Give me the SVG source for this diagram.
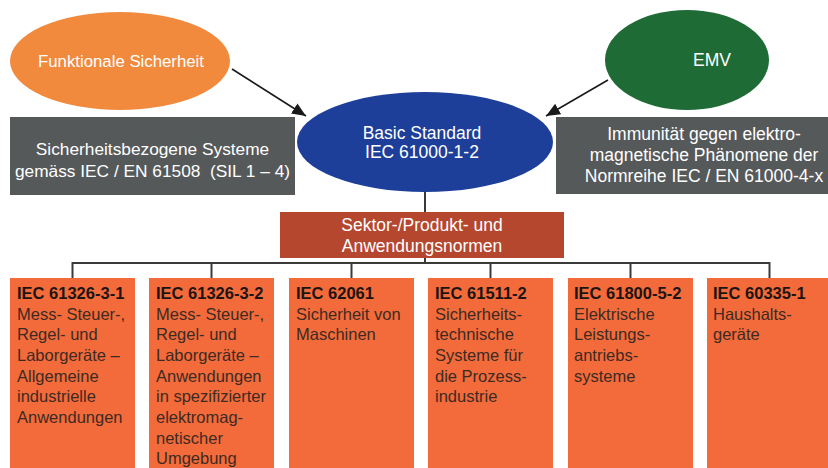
<svg xmlns="http://www.w3.org/2000/svg" width="828" height="468" viewBox="0 0 828 468">
<defs>
<marker id="ah" viewBox="0 0 14 12" refX="14" refY="6" markerWidth="14" markerHeight="12" markerUnits="userSpaceOnUse" orient="auto"><path d="M0,0 L14,6 L0,12 z" fill="#1a1a1a"/></marker>
<style>
text{font-family:"Liberation Sans",Arial,sans-serif}
.w{fill:#ffffff;font-size:17.5px;text-anchor:middle}
.gray{fill:#56595a}
.box{fill:#f36b3b}
.t{fill:#1c1410;font-size:16.5px;font-weight:bold}
.b{fill:#3d2a22;font-size:16.5px}
.c{stroke:#3a3a3a;stroke-width:2;fill:none}
</style>
</defs>
<rect width="828" height="468" fill="#ffffff"/>
<g id="connectors">
<line x1="232" y1="69" x2="306" y2="116" stroke="#1a1a1a" stroke-width="1.6" marker-end="url(#ah)"/>
<line x1="608" y1="80" x2="546" y2="116" stroke="#1a1a1a" stroke-width="1.6" marker-end="url(#ah)"/>
<line class="c" x1="425" y1="190" x2="425" y2="213"/>
<line class="c" x1="425" y1="257" x2="425" y2="263"/>
<line class="c" x1="72.5" y1="263" x2="769.5" y2="263"/>
<line class="c" x1="72.5" y1="262" x2="72.5" y2="279"/>
<line class="c" x1="211.5" y1="262" x2="211.5" y2="279"/>
<line class="c" x1="351.5" y1="262" x2="351.5" y2="279"/>
<line class="c" x1="490.5" y1="262" x2="490.5" y2="279"/>
<line class="c" x1="630.5" y1="262" x2="630.5" y2="279"/>
<line class="c" x1="769.5" y1="262" x2="769.5" y2="279"/>
</g>
<g id="funktionale">
<ellipse cx="120" cy="61" rx="110" ry="49" fill="#f18a3d"/>
<text class="w" x="121" y="67" style="font-size:16.8px">Funktionale Sicherheit</text>
</g>
<g id="emv">
<ellipse cx="687" cy="60" rx="82" ry="50" fill="#1f6b36"/>
<text class="w" x="712" y="66">EMV</text>
</g>
<g id="sicherheitsbezogene">
<rect class="gray" x="10" y="117" width="285" height="78"/>
<text class="w" x="152.5" y="155" style="font-size:17.3px">Sicherheitsbezogene Systeme</text>
<text class="w" x="152.5" y="177" style="font-size:17.3px" xml:space="preserve">gemäss IEC / EN 61508  (SIL 1 – 4)</text>
</g>
<g id="immunitaet">
<rect class="gray" x="556" y="117" width="272" height="77"/>
<text class="w" x="704" y="140">Immunität gegen elektro-</text>
<text class="w" x="704" y="161">magnetische Phänomene der</text>
<text class="w" x="704" y="182">Normreihe IEC / EN 61000-4-x</text>
</g>
<g id="basic">
<ellipse cx="425" cy="142" rx="128" ry="50" fill="#1d3f99"/>
<text class="w" x="422" y="139">Basic Standard</text>
<text class="w" x="422" y="158">IEC 61000-1-2</text>
</g>
<g id="sektor">
<rect x="280" y="212" width="284" height="46" fill="#b5472f"/>
<text class="w" x="422" y="231">Sektor-/Produkt- und</text>
<text class="w" x="422" y="252">Anwendungsnormen</text>
</g>
<g id="n1">
<rect class="box" x="10" y="278" width="125" height="190"/>
<text class="t" x="17" y="299">IEC 61326-3-1</text>
<text class="b" x="17" y="320">Mess- Steuer-,</text>
<text class="b" x="17" y="340">Regel- und</text>
<text class="b" x="17" y="361">Laborgeräte –</text>
<text class="b" x="17" y="382">Allgemeine</text>
<text class="b" x="17" y="402">industrielle</text>
<text class="b" x="17" y="423">Anwendungen</text>
</g>
<g id="n2">
<rect class="box" x="149" y="278" width="125" height="190"/>
<text class="t" x="156" y="299">IEC 61326-3-2</text>
<text class="b" x="156" y="320">Mess- Steuer-,</text>
<text class="b" x="156" y="340">Regel- und</text>
<text class="b" x="156" y="361">Laborgeräte –</text>
<text class="b" x="156" y="382">Anwendungen</text>
<text class="b" x="156" y="402">in spezifizierter</text>
<text class="b" x="156" y="423">elektromag-</text>
<text class="b" x="156" y="444">netischer</text>
<text class="b" x="156" y="464">Umgebung</text>
</g>
<g id="n3">
<rect class="box" x="289" y="278" width="125" height="190"/>
<text class="t" x="296" y="299">IEC 62061</text>
<text class="b" x="296" y="320">Sicherheit von</text>
<text class="b" x="296" y="340">Maschinen</text>
</g>
<g id="n4">
<rect class="box" x="428" y="278" width="125" height="190"/>
<text class="t" x="435" y="299">IEC 61511-2</text>
<text class="b" x="435" y="320">Sicherheits-</text>
<text class="b" x="435" y="340">technische</text>
<text class="b" x="435" y="361">Systeme für</text>
<text class="b" x="435" y="382">die Prozess-</text>
<text class="b" x="435" y="402">industrie</text>
</g>
<g id="n5">
<rect class="box" x="568" y="278" width="125" height="190"/>
<text class="t" x="574" y="299">IEC 61800-5-2</text>
<text class="b" x="574" y="320">Elektrische</text>
<text class="b" x="574" y="340">Leistungs-</text>
<text class="b" x="574" y="361">antriebs-</text>
<text class="b" x="574" y="382">systeme</text>
</g>
<g id="n6">
<rect class="box" x="707" y="278" width="121" height="190"/>
<text class="t" x="713" y="299">IEC 60335-1</text>
<text class="b" x="713" y="320">Haushalts-</text>
<text class="b" x="713" y="340">geräte</text>
</g>
</svg>
